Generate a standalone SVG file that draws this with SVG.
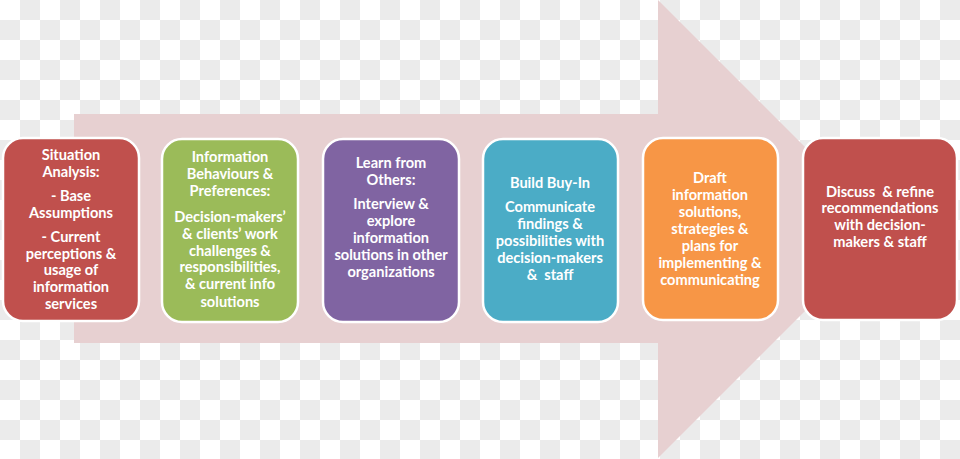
<svg xmlns="http://www.w3.org/2000/svg" width="960" height="459" viewBox="0 0 960 459">
<defs>
<pattern id="chk" x="0" y="0" width="40" height="40" patternUnits="userSpaceOnUse">
<rect width="40" height="40" fill="#ffffff"/>
<rect x="20" y="0" width="20" height="20" fill="#ebebeb"/>
<rect x="0" y="20" width="20" height="20" fill="#ebebeb"/>
</pattern>
</defs>
<style>
.box{stroke:#ffffff;stroke-width:2.5}
.t{font-family:Lato,"Open Sans","Liberation Sans",sans-serif;font-weight:bold;font-size:14.6px;fill:#ffffff;text-anchor:middle;white-space:pre}
</style>
<rect width="960" height="459" fill="url(#chk)"/>
<g id="arrow">
<polygon points="74,114 658,114 658,0 887,229 658,458 658,343 74,343" fill="#e7d0d1"/>
</g>
<g id="connectors"></g>
<g id="n1">
<rect class="box" x="3" y="138" width="136" height="183" rx="20" fill="#c0504d"/>
<text class="t" x="71"><tspan x="71" y="160">Situation</tspan><tspan x="71" y="177">Analysis:</tspan><tspan x="71" y="201">- Base</tspan><tspan x="71" y="218">Assumptions</tspan><tspan x="71" y="242">- Current</tspan><tspan x="71" y="259">perceptions &amp;</tspan><tspan x="71" y="275">usage of</tspan><tspan x="71" y="292">information</tspan><tspan x="71" y="309">services</tspan></text>
</g>
<g id="n2">
<rect class="box" x="162" y="139" width="136" height="183" rx="20" fill="#9bbb59"/>
<text class="t"><tspan x="230" y="162">Information</tspan><tspan x="230" y="179">Behaviours &amp;</tspan><tspan x="230" y="196">Preferences:</tspan><tspan x="230" y="222">Decision-makers’</tspan><tspan x="230" y="239">&amp; clients’ work</tspan><tspan x="230" y="256">challenges &amp;</tspan><tspan x="230" y="272">responsibilities,</tspan><tspan x="230" y="289">&amp; current info</tspan><tspan x="230" y="307">solutions</tspan></text>
</g>
<g id="n3">
<rect class="box" x="323" y="139" width="136" height="183" rx="20" fill="#8064a2"/>
<text class="t"><tspan x="391" y="168">Learn from</tspan><tspan x="391" y="185">Others:</tspan><tspan x="391" y="209">Interview &amp;</tspan><tspan x="391" y="226">explore</tspan><tspan x="391" y="243">information</tspan><tspan x="391" y="260">solutions in other</tspan><tspan x="391" y="277">organizations</tspan></text>
</g>
<g id="n4">
<rect class="box" x="483" y="139" width="135" height="183" rx="20" fill="#4bacc6"/>
<text class="t"><tspan x="550" y="188">Build Buy-In</tspan><tspan x="550" y="212">Communicate</tspan><tspan x="550" y="229">findings &amp;</tspan><tspan x="550" y="246">possibilities with</tspan><tspan x="550" y="263">decision-makers</tspan><tspan x="550" y="280">&amp;  staff</tspan></text>
</g>
<g id="n5">
<rect class="box" x="643" y="138" width="135" height="182" rx="20" fill="#f79646"/>
<text class="t"><tspan x="710" y="183">Draft</tspan><tspan x="710" y="200">information</tspan><tspan x="710" y="217">solutions,</tspan><tspan x="710" y="234">strategies &amp;</tspan><tspan x="710" y="251">plans for</tspan><tspan x="710" y="268">implementing &amp;</tspan><tspan x="710" y="285">communicating</tspan></text>
</g>
<g id="n6">
<rect class="box" x="803" y="138" width="154" height="182" rx="20" fill="#c0504d"/>
<text class="t"><tspan x="880" y="197">Discuss  &amp; refine</tspan><tspan x="880" y="213">recommendations</tspan><tspan x="880" y="230">with decision-</tspan><tspan x="880" y="247">makers &amp; staff</tspan></text>
</g>
</svg>
